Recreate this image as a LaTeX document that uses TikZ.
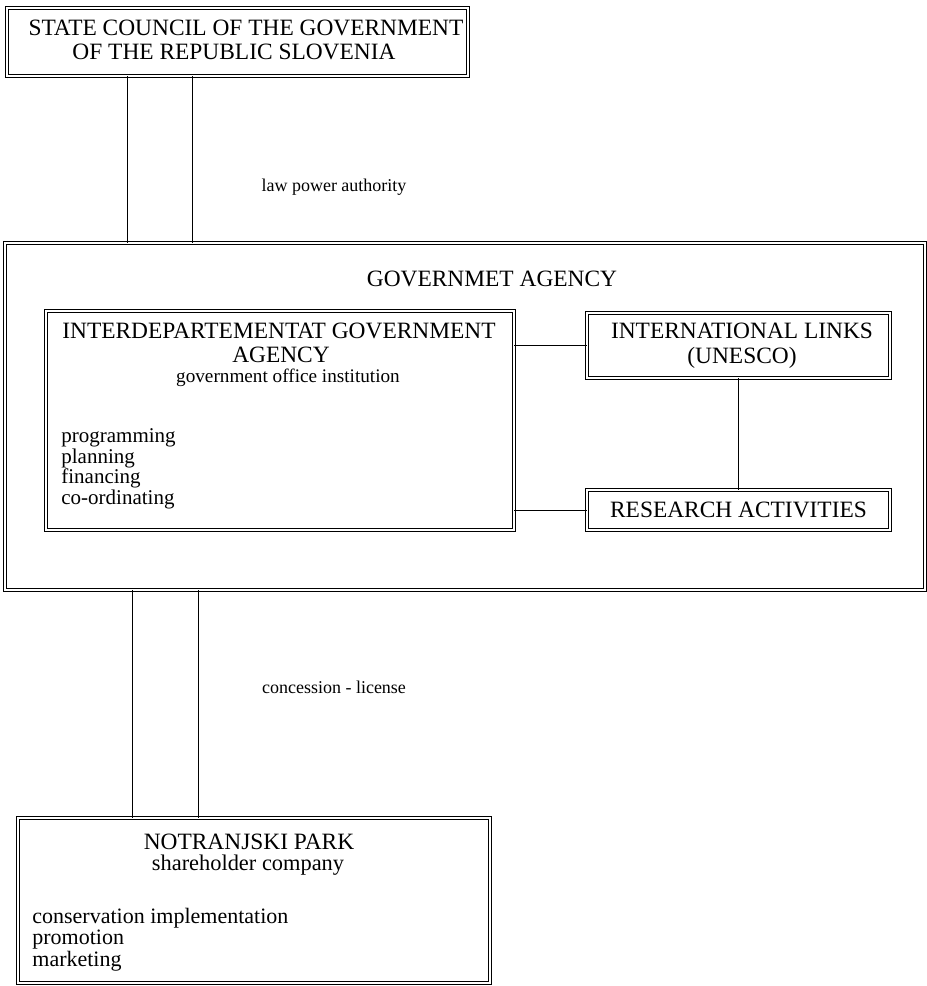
\documentclass[tikz,border=0pt]{standalone}
\usepackage{fontspec}
\setmainfont{Liberation Serif}
\usetikzlibrary{positioning}

\tikzset{
  frame/.style={draw, double, double distance=1pt, line width=0.4pt, inner sep=0pt},
  caps/.style={inner sep=0pt, align=center, font=\fontsize{11.7}{12.5}\selectfont},
  small/.style={inner sep=0pt, align=left, anchor=west, font=\fontsize{10.5}{10.5}\selectfont},
  tag/.style={inner sep=0pt, font=\fontsize{9}{9}\selectfont},
  link/.style={line width=0.5pt},
}

\begin{document}
\begin{tikzpicture}[x=0.5pt,y=-0.5pt]
\useasboundingbox (0,0) rectangle (927,986);
\node [frame, minimum width=230.5pt, minimum height=34pt] (council) at (237.5,42) {};
\node [caps] (councilA) at (246,28) {STATE COUNCIL OF THE GOVERNMENT};
\node [caps] (councilB) at (234,52) {OF THE REPUBLIC SLOVENIA};
\node [frame, minimum width=460pt, minimum height=173.5pt] (agency) at (465,416.5) {};
\node [caps] (agencyT) at (492,279) {GOVERNMET AGENCY};
\node [frame, minimum width=234pt, minimum height=109.5pt] (idga) at (280,420.5) {};
\node [caps] (idgaA) at (279,331) {INTERDEPARTEMENTAT GOVERNMENT};
\node [caps] (idgaB) at (281,355) {AGENCY};
\node [caps, font=\fontsize{9.6}{9.6}\selectfont] (idgaC) at (288,378) {government office institution};
\node [small] (prog) at (61,438) {programming};
\node [small] (plan) at (61,458) {planning};
\node [small] (fin) at (61,478) {financing};
\node [small] (coord) at (61,499) {co-ordinating};
\node [frame, minimum width=151.5pt, minimum height=32.5pt] (intl) at (738.5,345.5) {};
\node [caps] (intlT) at (742,345.5) {INTERNATIONAL LINKS\\(UNESCO)};
\node [frame, minimum width=151.5pt, minimum height=20pt] (research) at (738.5,510) {};
\node [caps] (researchT) at (738.5,510) {RESEARCH ACTIVITIES};
\node [frame, minimum width=236pt, minimum height=82.5pt] (park) at (254,900.5) {};
\node [caps] (parkA) at (249,842) {NOTRANJSKI PARK};
\node [caps, font=\fontsize{11.2}{11.2}\selectfont] (parkB) at (248,865) {shareholder company};
\node [small, font=\fontsize{11}{11}\selectfont] (cons) at (32,918) {conservation implementation};
\node [small, font=\fontsize{11}{11}\selectfont] (promo) at (32,940) {promotion};
\node [small, font=\fontsize{11}{11}\selectfont] (market) at (32,961) {marketing};
\node [tag] (law) at (334,187) {law power authority};
\node [tag] (conc) at (334,687) {concession - license};
\draw [link] (127,0 |- council.south) -- (127,0 |- agency.north);
\draw [link] (192,0 |- council.south) -- (192,0 |- agency.north);
\draw [link] (132,0 |- agency.south) -- (132,0 |- park.north);
\draw [link] (198,0 |- agency.south) -- (198,0 |- park.north);
\draw [link] (intl.west -| idga.east) -- (intl.west);
\draw [link] (research.west -| idga.east) -- (research.west);
\draw [link] (intl.south) -- (research.north);
\end{tikzpicture}
\end{document}
